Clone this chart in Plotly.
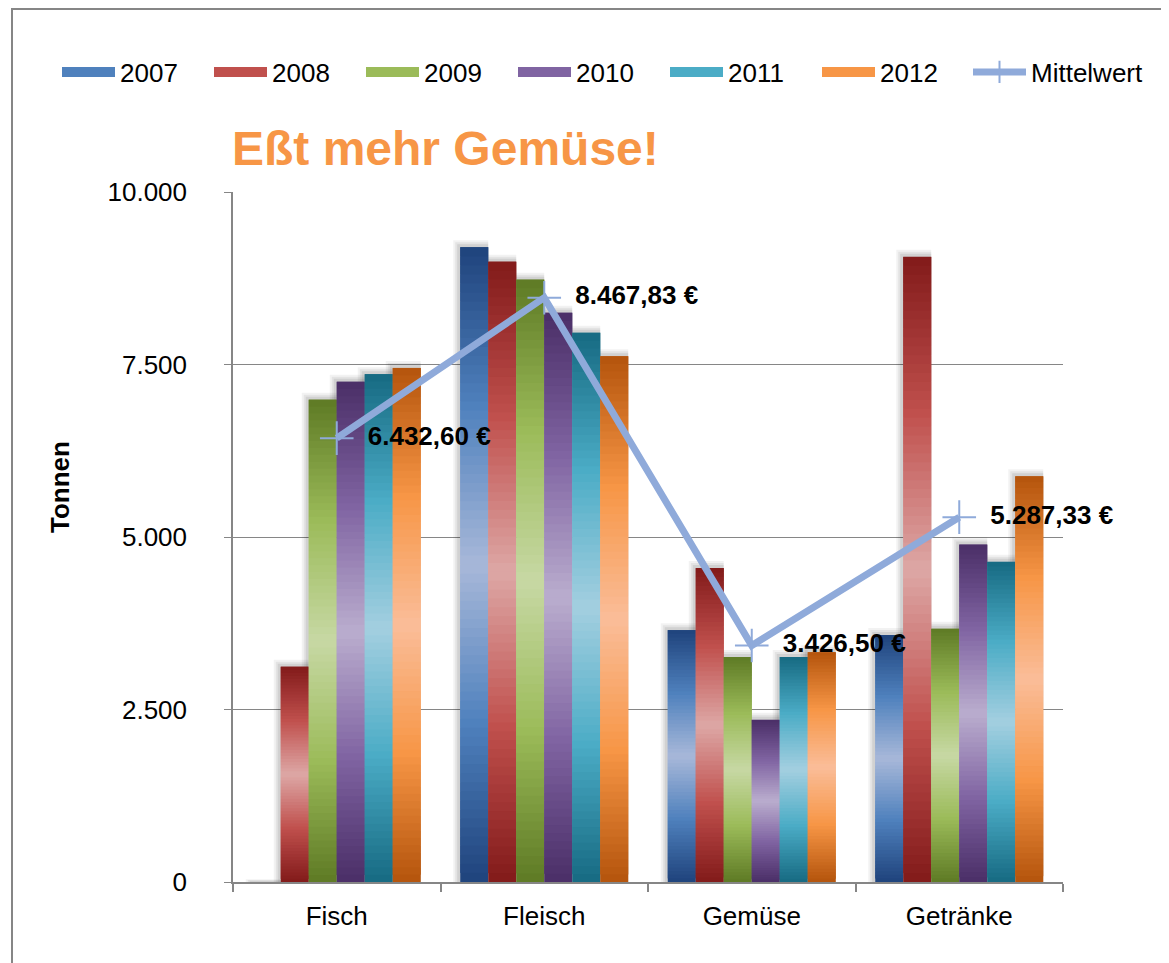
import plotly.graph_objects as go

# ---------------- data ----------------
categories = ["Fisch", "Fleisch", "Gemüse", "Getränke"]
years = ["2007", "2008", "2009", "2010", "2011", "2012"]
values_2007 = [0, 9200, 3650, 3580]
values_2008 = [3120, 8990, 4550, 9060]
values_2009 = [6990, 8730, 3260, 3670]
values_2010 = [7250, 8250, 2350, 4890]
values_2011 = [7360, 7960, 3260, 4640]
values_2012 = [7450, 7620, 3330, 5880]
series = [values_2007, values_2008, values_2009, values_2010, values_2011, values_2012]
mean_values = [6432.60, 8467.83, 3426.50, 5287.33]
y_ticks = [0, 2500, 5000, 7500, 10000]

# ---------------- style ----------------
OFF = 8  # page body margin
W, H = 1169 - OFF, 963 - OFF
ML, MT = 233 - OFF, 192 - OFF
PW, PH = 830, 690
MR = W - ML - PW
MB = H - MT - PH
FONT = "Liberation Sans, Arial, sans-serif"

dark = [(31, 67, 124), (130, 26, 26), (94, 122, 36), (74, 46, 103), (22, 106, 130), (180, 84, 12)]
base = [(79, 129, 189), (192, 80, 77), (155, 187, 89), (128, 100, 162), (75, 172, 198), (247, 150, 70)]
light = [(168, 184, 217), (221, 167, 166), (199, 216, 164), (186, 173, 206), (164, 207, 224), (250, 189, 153)]

def lerp(a, b, t):
    return tuple(int(round(a[i] + (b[i] - a[i]) * t)) for i in range(3))

def shade(i, g):
    if g < 0.5:
        c = lerp(dark[i], base[i], g / 0.5)
    else:
        c = lerp(base[i], light[i], (g - 0.5) / 0.5)
    return "rgb(%d,%d,%d)" % c

def rgb(c):
    return "rgb(%d,%d,%d)" % c

def sx(px):  # screen px -> paper x
    return (px - OFF - ML) / PW

def sy(py):  # screen px -> paper y
    return (MT + PH - (py - OFF)) / PH

ymax = 10000
units_per_px = ymax / PH
cat_px = PW / len(categories)
bar_w = 28.0 / cat_px
n = len(years)
offsets = [-n * bar_w / 2 + i * bar_w for i in range(n)]

fig = go.Figure()

# shadows
for grow, alpha in [(7, 0.05), (5, 0.06), (3, 0.08)]:
    for i, vals in enumerate(series):
        fig.add_trace(go.Bar(
            x=categories, y=[v + grow * units_per_px if v > 0 else grow * units_per_px * 0.4 for v in vals],
            base=0, width=bar_w + grow / cat_px, offset=offsets[i] - grow / cat_px,
            marker=dict(color="rgba(0,0,0,%.3f)" % alpha, line=dict(width=0)),
            showlegend=False, hoverinfo="skip"))

# gradient bars built from vertical segments
N = 70
for i, vals in enumerate(series):
    for k in range(N):
        f = (k + 0.5) / N
        g = 1 - abs(2 * f - 1)
        bases = [v * k / N for v in vals]
        tops = [v * min(k + 2.0, N) / N for v in vals]
        fig.add_trace(go.Bar(
            x=categories, y=[t - b for t, b in zip(tops, bases)], base=bases,
            width=bar_w, offset=offsets[i],
            marker=dict(color=shade(i, g), line=dict(width=0)),
            showlegend=False, hoverinfo="skip"))

# legend entries for years
for i, yr in enumerate(years):
    fig.add_trace(go.Scatter(
        x=[None], y=[None], mode="lines", name=yr,
        line=dict(color=rgb(base[i]), width=14), legend="legend"))

line_col = "rgb(143,170,218)"
fig.add_trace(go.Scatter(
    x=categories, y=mean_values, mode="lines+markers",
    line=dict(color=line_col, width=7),
    marker=dict(symbol="cross-thin", size=24, line=dict(color=line_col, width=2), color=line_col),
    showlegend=False, hoverinfo="skip"))
# data labels of the mean series
fig.add_trace(go.Scatter(
    x=categories, y=mean_values, mode="markers+text",
    marker=dict(size=48, color="rgba(0,0,0,0)", line=dict(width=0)),
    texttemplate="%{y:,.2f} €", textposition="middle right",
    textfont=dict(family=FONT, size=26, color="black", weight="bold"),
    cliponaxis=False, showlegend=False, hoverinfo="skip"))
fig.add_trace(go.Scatter(
    x=[None], y=[None], mode="lines+markers", name="Mittelwert",
    line=dict(color=line_col, width=7),
    marker=dict(symbol="cross-thin", size=20, line=dict(color=line_col, width=2)),
    legend="legend2"))

grid_col = "rgb(134,134,134)"
legend_common = dict(orientation="h", yanchor="middle", entrywidthmode="pixels", itemwidth=53,
                     font=dict(size=26), bgcolor="rgba(0,0,0,0)", traceorder="normal")
fig.update_layout(
    width=W, height=H,
    margin=dict(l=ML, r=MR, t=MT, b=MB),
    paper_bgcolor="white", plot_bgcolor="white",
    separators=",.",
    barmode="overlay",
    font=dict(family=FONT, size=26, color="black"),
    xaxis=dict(
        categoryorder="array", categoryarray=categories,
        showline=True, linecolor=grid_col, linewidth=2,
        ticks="outside", tickson="boundaries", ticklen=8, tickcolor=grid_col, tickwidth=2,
        showgrid=False, tickfont=dict(size=26), ticklabelstandoff=10,
        range=[-0.5, 3.5]),
    yaxis=dict(
        range=[0, ymax], tickvals=y_ticks, tickformat=",d",
        showline=True, linecolor=grid_col, linewidth=1.5,
        ticks="outside", ticklen=7, tickcolor=grid_col,
        showgrid=True, gridcolor=grid_col, gridwidth=1.2,
        zeroline=False, tickfont=dict(size=26), ticklabelstandoff=32),
    legend=dict(x=sx(57), xanchor="left", y=sy(72), entrywidth=84, **legend_common),
    legend2=dict(x=sx(968), xanchor="left", y=sy(72), entrywidth=120, **legend_common),
    annotations=[
        dict(text="<b>Eßt mehr Gemüse!</b>", x=sx(230), y=sy(148), xref="paper", yref="paper",
             xanchor="left", yanchor="middle", showarrow=False,
             font=dict(family=FONT, size=48, color="rgb(247,150,70)")),
        dict(text="<b>Tonnen</b>", x=sx(60), y=sy(487), xref="paper", yref="paper",
             xanchor="center", yanchor="middle", showarrow=False, textangle=-90,
             font=dict(family=FONT, size=26, color="black")),
    ],
    shapes=[
        dict(type="rect", xref="paper", yref="paper",
             x0=sx(12), x1=sx(1190), y0=sy(990), y1=sy(9),
             line=dict(color=grid_col, width=2), fillcolor="rgba(0,0,0,0)", layer="below"),
    ],
)

fig.write_html("out.html")
